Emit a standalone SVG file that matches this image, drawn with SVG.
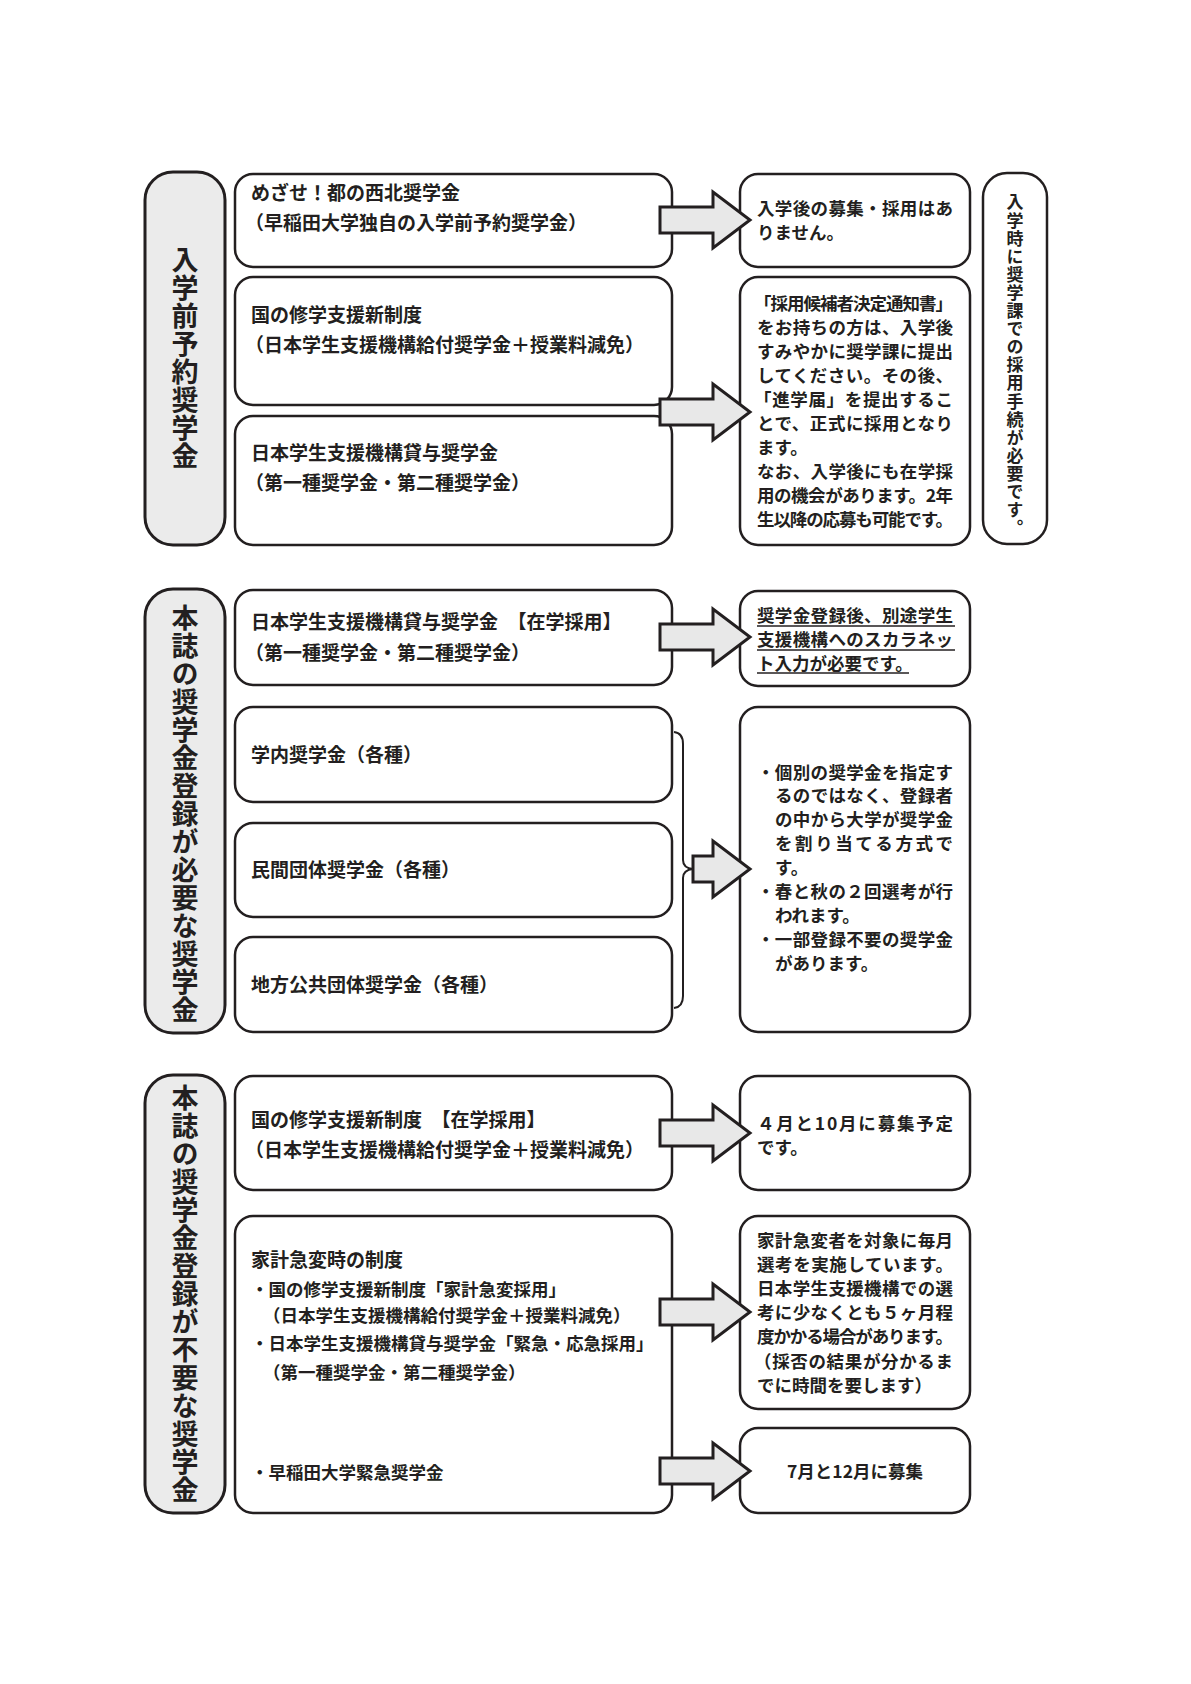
<svg xmlns="http://www.w3.org/2000/svg" xmlns:xlink="http://www.w3.org/1999/xlink" width="1191" height="1684" viewBox="0 0 1191 1684">
<style>
text{font-family:"Noto Sans CJK JP","Noto Sans CJK SC",sans-serif;fill:#231f20;}
.box{fill:#fff;stroke:#231f20;stroke-width:2.5;}
.pill{fill:#ebebeb;stroke:#231f20;stroke-width:3;}
.pillw{fill:#fff;stroke:#231f20;stroke-width:2.5;}
.arrow{fill:#e8e8e8;stroke:#231f20;stroke-width:3;stroke-linejoin:miter;}
.brace{fill:none;stroke:#231f20;stroke-width:2;}
.ul{stroke:#231f20;stroke-width:1.6;}
.lt{font-size:19px;font-weight:700;}
.ls{font-size:17.5px;font-weight:700;}
.rt{font-size:17.5px;font-weight:700;}
.vt{font-size:27px;font-weight:700;writing-mode:vertical-rl;letter-spacing:1px;}
.vs{font-size:17px;font-weight:700;writing-mode:vertical-rl;letter-spacing:1.1px;}
</style>
<defs>
<path id="arr" d="M0,-13 L53,-13 L53,-28 L90,0 L53,28 L53,13 L0,13 Z"/>
<path id="arrs" d="M0,-13 L20,-13 L20,-28 L57,0 L20,28 L20,13 L0,13 Z"/>
</defs>
<rect width="1191" height="1684" fill="#fff"/>

<!-- Section 1 -->
<g id="sec1-label">
<rect class="pill" x="145" y="172" width="80" height="373" rx="28"/>
<text class="vt" x="185" y="246.5">入学前予約奨学金</text>
</g>
<g id="box-mezase">
<rect class="box" x="235" y="174" width="437" height="93" rx="18"/>
<text class="lt" x="251" y="200">めざせ！都の西北奨学金</text>
<text class="lt" x="245" y="230">（早稲田大学独自の入学前予約奨学金）</text>
</g>
<g id="box-shugaku1">
<rect class="box" x="235" y="277" width="437" height="128" rx="18"/>
<text class="lt" x="251" y="322">国の修学支援新制度</text>
<text class="lt" x="245" y="352">（日本学生支援機構給付奨学金＋授業料減免）</text>
</g>
<g id="box-taiyo1">
<rect class="box" x="235" y="416" width="437" height="129" rx="18"/>
<text class="lt" x="251" y="460">日本学生支援機構貸与奨学金</text>
<text class="lt" x="245" y="490">（第一種奨学金・第二種奨学金）</text>
</g>
<g id="res-none">
<rect class="box" x="740" y="174" width="230" height="93" rx="18"/>
<text class="rt" x="757" y="214.5" textLength="196">入学後の募集・採用はあ</text>
<text class="rt" x="757" y="238.5">りません。</text>
</g>
<g id="res-kouho">
<rect class="box" x="740" y="277" width="230" height="268" rx="18"/>
<text class="rt" x="754" y="309.5" textLength="199">「採用候補者決定通知書」</text>
<text class="rt" x="757" y="333.5" textLength="196">をお持ちの方は、入学後</text>
<text class="rt" x="757" y="357.5" textLength="196">すみやかに奨学課に提出</text>
<text class="rt" x="757" y="381.5" textLength="196">してください。その後、</text>
<text class="rt" x="754" y="405.5" textLength="199">「進学届」を提出するこ</text>
<text class="rt" x="757" y="429.5" textLength="196">とで、正式に採用となり</text>
<text class="rt" x="757" y="453.5">ます。</text>
<text class="rt" x="757" y="477.5" textLength="196">なお、入学後にも在学採</text>
<text class="rt" x="757" y="501.5" textLength="196">用の機会があります。2年</text>
<text class="rt" x="757" y="525.5" textLength="196">生以降の応募も可能です。</text>
</g>
<g id="note-nyugaku">
<rect class="pillw" x="983" y="173" width="64" height="371" rx="24"/>
<text class="vs" x="1015" y="193.5">入学時に奨学課での採用手続が必要です。</text>
</g>

<!-- Section 2 -->
<g id="sec2-label">
<rect class="pill" x="145" y="589" width="80" height="444" rx="28"/>
<text class="vt" x="185" y="604.5">本誌の奨学金登録が必要な奨学金</text>
</g>
<g id="box-taiyo2">
<rect class="box" x="235" y="590" width="437" height="95" rx="18"/>
<text class="lt" x="251" y="629">日本学生支援機構貸与奨学金　【在学採用】</text>
<text class="lt" x="245" y="660">（第一種奨学金・第二種奨学金）</text>
</g>
<g id="box-gakunai">
<rect class="box" x="235" y="707" width="437" height="95" rx="18"/>
<text class="lt" x="251" y="762">学内奨学金（各種）</text>
</g>
<g id="box-minkan">
<rect class="box" x="235" y="823" width="437" height="94" rx="18"/>
<text class="lt" x="251" y="877">民間団体奨学金（各種）</text>
</g>
<g id="box-chiho">
<rect class="box" x="235" y="937" width="437" height="95" rx="18"/>
<text class="lt" x="251" y="992">地方公共団体奨学金（各種）</text>
</g>
<g id="res-scholanet">
<rect class="box" x="740" y="591" width="230" height="95" rx="18"/>
<text class="rt" x="757" y="621.5" textLength="196">奨学金登録後、別途学生</text>
<text class="rt" x="757" y="645.5" textLength="196">支援機構へのスカラネッ</text>
<text class="rt" x="757" y="669.5">ト入力が必要です。</text>
<line class="ul" x1="757" y1="626" x2="955" y2="626"/>
<line class="ul" x1="757" y1="650" x2="955" y2="650"/>
<line class="ul" x1="757" y1="673" x2="909" y2="673"/>
</g>
<g id="res-touroku">
<rect class="box" x="740" y="707" width="230" height="325" rx="18"/>
<text class="rt" x="757" y="778.5" textLength="196">・個別の奨学金を指定す</text>
<text class="rt" x="775" y="802.4" textLength="178">るのではなく、登録者</text>
<text class="rt" x="775" y="826.3" textLength="178">の中から大学が奨学金</text>
<text class="rt" x="775" y="850.2" textLength="178">を割り当てる方式で</text>
<text class="rt" x="775" y="874.1">す。</text>
<text class="rt" x="757" y="898" textLength="196">・春と秋の２回選考が行</text>
<text class="rt" x="775" y="921.9">われます。</text>
<text class="rt" x="757" y="945.8" textLength="196">・一部登録不要の奨学金</text>
<text class="rt" x="775" y="969.7">があります。</text>
</g>

<!-- Section 3 -->
<g id="sec3-label">
<rect class="pill" x="145" y="1075" width="80" height="438" rx="28"/>
<text class="vt" x="185" y="1084.5">本誌の奨学金登録が不要な奨学金</text>
</g>
<g id="box-shugaku2">
<rect class="box" x="235" y="1076" width="437" height="114" rx="18"/>
<text class="lt" x="251" y="1127">国の修学支援新制度　【在学採用】</text>
<text class="lt" x="245" y="1157">（日本学生支援機構給付奨学金＋授業料減免）</text>
</g>
<g id="box-kyuhen">
<rect class="box" x="235" y="1216" width="437" height="297" rx="18"/>
<text class="lt" x="251" y="1267">家計急変時の制度</text>
<text class="ls" x="251" y="1295.5">・国の修学支援新制度「家計急変採用」</text>
<text class="ls" x="263" y="1321.5">（日本学生支援機構給付奨学金＋授業料減免）</text>
<text class="ls" x="251" y="1349.5">・日本学生支援機構貸与奨学金「緊急・応急採用」</text>
<text class="ls" x="263" y="1378.5">（第一種奨学金・第二種奨学金）</text>
<text class="ls" x="251" y="1478.5">・早稲田大学緊急奨学金</text>
</g>
<g id="res-bosyu">
<rect class="box" x="740" y="1076" width="230" height="114" rx="18"/>
<text class="rt" x="757" y="1129.5" textLength="196">４月と10月に募集予定</text>
<text class="rt" x="757" y="1153.5">です。</text>
</g>
<g id="res-kyuhen">
<rect class="box" x="740" y="1216" width="230" height="193" rx="18"/>
<text class="rt" x="757" y="1246.5" textLength="196">家計急変者を対象に毎月</text>
<text class="rt" x="757" y="1270.7" textLength="196">選考を実施しています。</text>
<text class="rt" x="757" y="1294.9" textLength="196">日本学生支援機構での選</text>
<text class="rt" x="757" y="1319.1" textLength="196">考に少なくとも５ヶ月程</text>
<text class="rt" x="757" y="1343.3" textLength="196">度かかる場合があります。</text>
<text class="rt" x="754" y="1367.5" textLength="199">（採否の結果が分かるま</text>
<text class="rt" x="757" y="1391.7">でに時間を要します）</text>
</g>
<g id="res-kinkyu">
<rect class="box" x="740" y="1428" width="230" height="85" rx="18"/>
<text class="rt" x="855" y="1477.5" text-anchor="middle">7月と12月に募集</text>
</g>

<!-- Connectors -->
<g id="connectors">
<path class="brace" d="M674,732 Q683,733 683,744 L683,860 Q683,868 693,869 Q683,870 683,878 L683,996 Q683,1007 674,1008"/>
<use xlink:href="#arr" class="arrow" x="660" y="220"/>
<use xlink:href="#arr" class="arrow" x="660" y="412"/>
<use xlink:href="#arr" class="arrow" x="660" y="637"/>
<use xlink:href="#arrs" class="arrow" x="693" y="869"/>
<use xlink:href="#arr" class="arrow" x="660" y="1133"/>
<use xlink:href="#arr" class="arrow" x="660" y="1312"/>
<use xlink:href="#arr" class="arrow" x="660" y="1471"/>
</g>
</svg>
